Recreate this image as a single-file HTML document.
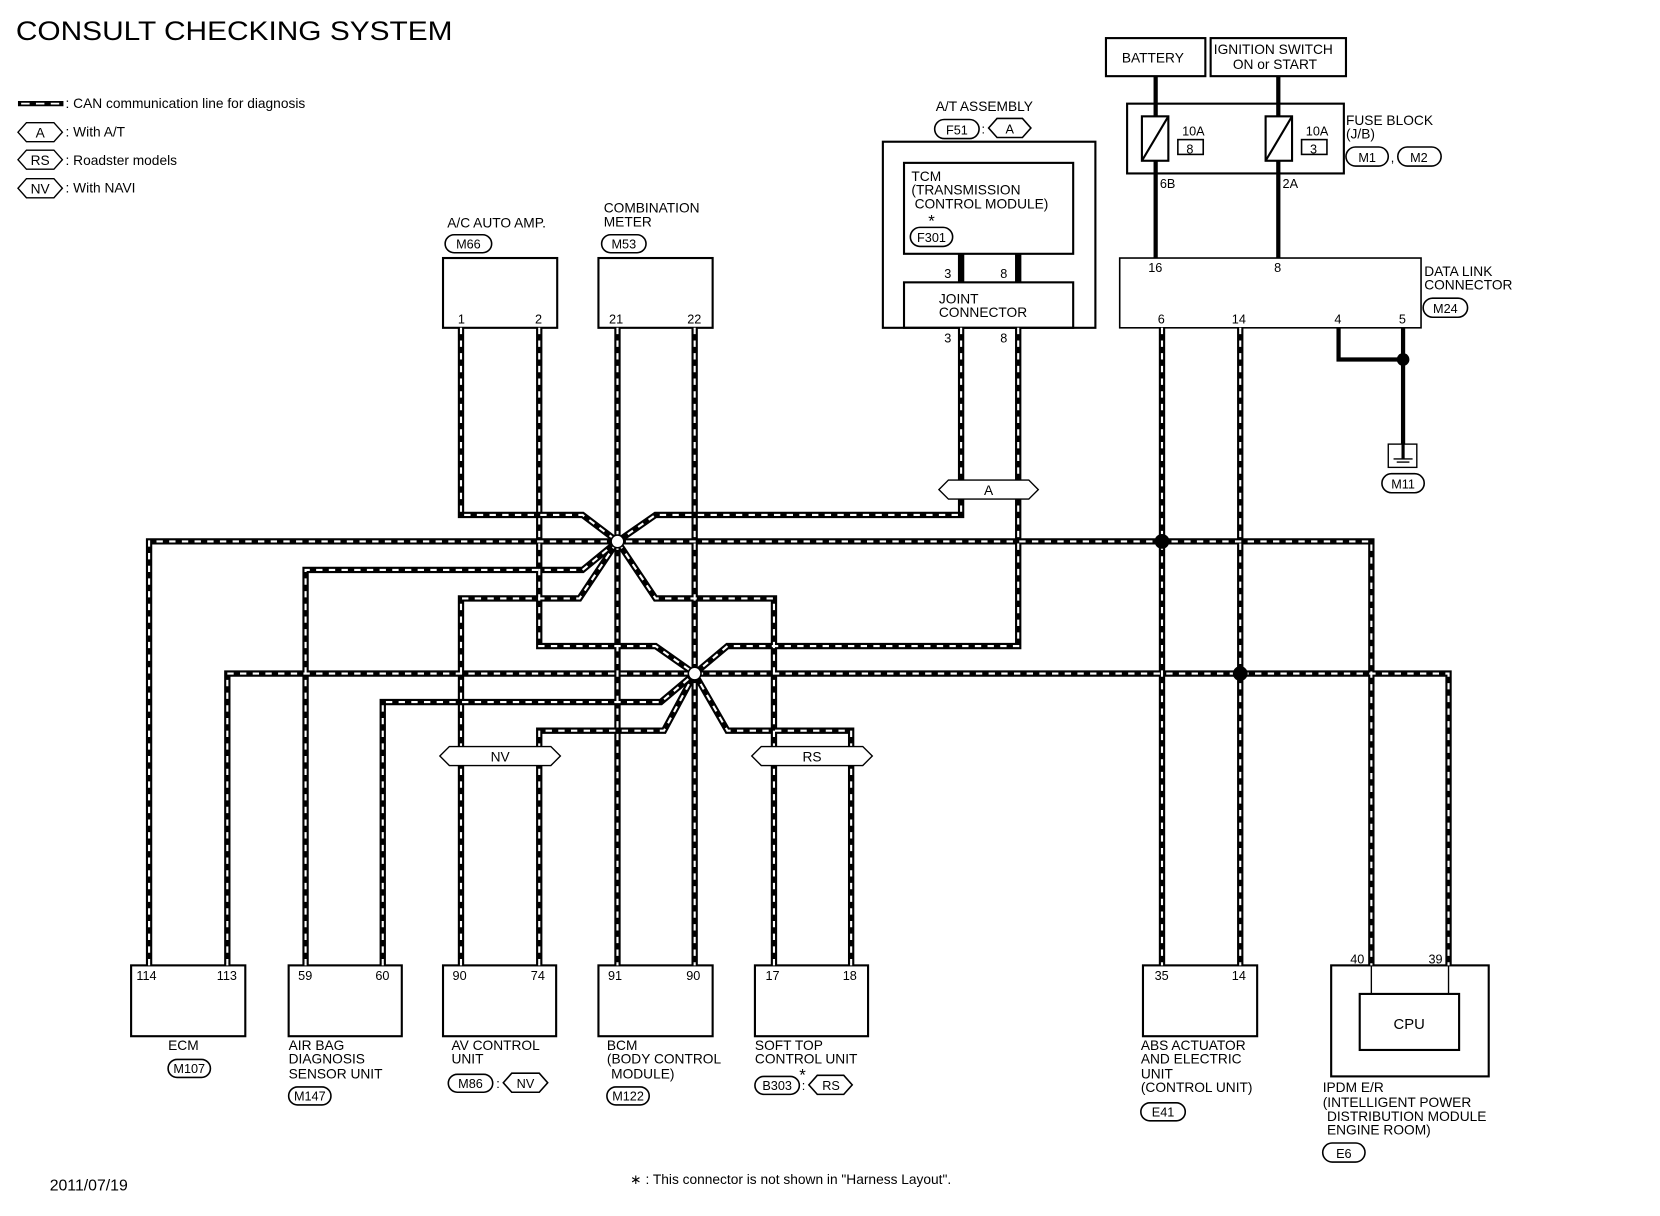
<!DOCTYPE html>
<html><head><meta charset="utf-8"><style>
html,body{margin:0;padding:0;background:#fff}
svg{display:block}
text{font-family:"Liberation Sans",sans-serif;fill:#000}
</style></head><body>
<svg width="1660" height="1216" viewBox="0 0 1570 1150" xmlns="http://www.w3.org/2000/svg">
<rect width="1570" height="1150" fill="#fff"/>
<text x="15" y="38" font-size="25" textLength="413" lengthAdjust="spacingAndGlyphs">CONSULT CHECKING SYSTEM</text>

<!-- legend -->
<line x1="17" y1="98" x2="60" y2="98" stroke="#000" stroke-width="5"/>
<line x1="20" y1="98" x2="58" y2="98" stroke="#fff" stroke-width="1.6" stroke-dasharray="8 6"/>
<g font-size="13">
<text x="62" y="102">: CAN communication line for diagnosis</text>
<text x="62" y="129">: With A/T</text>
<text x="62" y="156">: Roadster models</text>
<text x="62" y="182">: With NAVI</text>
</g>
<g fill="#fff" stroke="#000" stroke-width="1.3">
<polygon points="17,125 25,116 51,116 59,125 51,134 25,134"/>
<polygon points="17,151 25,142 51,142 59,151 51,160 25,160"/>
<polygon points="17,178 25,169 51,169 59,178 51,187 25,187"/>
</g>
<g font-size="13" text-anchor="middle">
<text x="38" y="130">A</text><text x="38" y="156">RS</text><text x="38" y="183">NV</text>
</g>

<!-- boxes -->
<g fill="none" stroke="#000" stroke-width="2">
<rect x="419" y="244" width="108" height="66"/>
<rect x="566" y="244" width="108" height="66"/>
<rect x="835" y="134" width="201" height="176"/>
<rect x="855" y="154" width="160" height="86"/>
<rect x="855" y="267" width="160" height="43"/>
<rect x="1046" y="36" width="94" height="36"/>
<rect x="1145" y="36" width="128" height="36"/>
<rect x="1066" y="98" width="205" height="66"/>
<rect x="1059" y="244" width="285" height="66" stroke-width="1.5"/>
<rect x="124" y="913" width="108" height="67"/>
<rect x="273" y="913" width="107" height="67"/>
<rect x="419" y="913" width="107" height="67"/>
<rect x="566" y="913" width="108" height="67"/>
<rect x="714" y="913" width="107" height="67"/>
<rect x="1081" y="913" width="108" height="67"/>
<rect x="1259" y="913" width="149" height="105"/>
<rect x="1286" y="940" width="94" height="53"/>
</g>
<g stroke="#000" stroke-width="1.3">
<line x1="1297" y1="913" x2="1297" y2="940"/>
<line x1="1370" y1="913" x2="1370" y2="940"/>
</g>

<!-- fuses -->
<g fill="none" stroke="#000" stroke-width="2">
<rect x="1080" y="110" width="25" height="42"/>
<line x1="1080" y1="152" x2="1105" y2="110"/>
<rect x="1197" y="110" width="25" height="42"/>
<line x1="1197" y1="152" x2="1222" y2="110"/>
<rect x="1114" y="132" width="24" height="14" stroke-width="1.5"/>
<rect x="1231" y="132" width="24" height="14" stroke-width="1.5"/>
</g>
<g stroke="#000" stroke-width="4">
<line x1="1093" y1="72" x2="1093" y2="110"/>
<line x1="1093" y1="152" x2="1093" y2="244"/>
<line x1="1209" y1="72" x2="1209" y2="110"/>
<line x1="1209" y1="152" x2="1209" y2="244"/>
<polyline points="1266,310 1266,340 1327,340" fill="none"/>
<line x1="1327" y1="310" x2="1327" y2="430"/>
</g>
<circle cx="1327" cy="340" r="6" fill="#000"/>
<rect x="1313" y="420" width="27" height="22" fill="#fff" stroke="#000" stroke-width="1.3"/>
<line x1="1327" y1="420" x2="1327" y2="434" stroke="#000" stroke-width="3"/>
<line x1="1318" y1="434" x2="1336" y2="434" stroke="#000" stroke-width="1.3"/>
<line x1="1321" y1="437" x2="1333" y2="437" stroke="#000" stroke-width="1.3"/>

<!-- CAN lines -->
<g fill="none" stroke="#000" stroke-width="6" stroke-linejoin="miter" id="can">
<path d="M436,310V487H551L584,512"/>
<path d="M510,310V611H620L657,637"/>
<path d="M584,310V913"/>
<path d="M657,310V913"/>
<path d="M909,310V487H620L584,512"/>
<path d="M963,310V611H688L657,637"/>
<path d="M141,913V512H1297V913"/>
<path d="M215,913V637H1370V913"/>
<path d="M289,913V539H551L584,512"/>
<path d="M362,913V664H625L657,637"/>
<path d="M436,913V566H548L584,512"/>
<path d="M510,913V691H628L657,637"/>
<path d="M732,913V566H620L584,512"/>
<path d="M805,913V691H688L657,637"/>
<path d="M1099,310V913"/>
<path d="M1173,310V913"/>
<path d="M909,240V267"/>
<path d="M963,240V267"/>
</g>
<g fill="none" stroke="#fff" stroke-width="2" stroke-dasharray="6 6">
<path d="M436,310V487H551L584,512"/>
<path d="M510,310V611H620L657,637"/>
<path d="M584,310V913"/>
<path d="M657,310V913"/>
<path d="M909,310V487H620L584,512"/>
<path d="M963,310V611H688L657,637"/>
<path d="M141,913V512H1297V913"/>
<path d="M215,913V637H1370V913"/>
<path d="M289,913V539H551L584,512"/>
<path d="M362,913V664H625L657,637"/>
<path d="M436,913V566H548L584,512"/>
<path d="M510,913V691H628L657,637"/>
<path d="M732,913V566H620L584,512"/>
<path d="M805,913V691H688L657,637"/>
<path d="M1099,310V913"/>
<path d="M1173,310V913"/>
</g>
<circle cx="1099" cy="512" r="7" fill="#000"/>
<circle cx="1173" cy="637" r="7" fill="#000"/>
<circle cx="584" cy="512" r="6" fill="#fff" stroke="#000" stroke-width="1.5"/>
<circle cx="657" cy="637" r="6" fill="#fff" stroke="#000" stroke-width="1.5"/>

<!-- hexes on lines -->
<g fill="#fff" stroke="#000" stroke-width="1.3">
<polygon points="888,463 897,454 973,454 982,463 973,472 897,472"/>
<polygon points="416,715 425,706 521,706 530,715 521,724 425,724"/>
<polygon points="711,715 720,706 816,706 825,715 816,724 720,724"/>
</g>
<g font-size="13" text-anchor="middle">
<text x="935" y="468">A</text><text x="473" y="720">NV</text><text x="768" y="720">RS</text>
</g>

<!-- ovals -->
<g fill="#fff" stroke="#000" stroke-width="1.5">
<rect x="421" y="222" width="44" height="17" rx="8.5"/>
<rect x="569" y="222" width="42" height="17" rx="8.5"/>
<rect x="884" y="113" width="42" height="18" rx="9"/>
<rect x="861" y="215" width="40" height="18" rx="9"/>
<rect x="1273" y="139" width="40" height="18" rx="9"/>
<rect x="1322" y="139" width="41" height="18" rx="9"/>
<rect x="1346" y="282" width="42" height="18" rx="9"/>
<rect x="1307" y="448" width="40" height="18" rx="9"/>
<rect x="159" y="1002" width="40" height="17" rx="8.5"/>
<rect x="273" y="1028" width="40" height="17" rx="8.5"/>
<rect x="424" y="1016" width="42" height="17" rx="8.5"/>
<rect x="574" y="1028" width="40" height="17" rx="8.5"/>
<rect x="714" y="1018" width="42" height="17" rx="8.5"/>
<rect x="1079" y="1043" width="42" height="17" rx="8.5"/>
<rect x="1251" y="1081" width="40" height="18" rx="9"/>
<polygon points="935,121 943,112 967,112 975,121 967,130 943,130"/>
<polygon points="476,1024 484,1015 510,1015 518,1024 510,1033 484,1033"/>
<polygon points="765,1026 773,1017 798,1017 806,1026 798,1035 773,1035"/>
</g>
<g font-size="12" text-anchor="middle">
<text x="443" y="235">M66</text><text x="590" y="235">M53</text>
<text x="905" y="127">F51</text><text x="955" y="126">A</text><text x="930" y="126">:</text>
<text x="881" y="229">F301</text><text x="881" y="214" font-size="16">*</text>
<text x="1293" y="153">M1</text><text x="1342" y="153">M2</text><text x="1317" y="153">,</text>
<text x="1367" y="296">M24</text><text x="1327" y="462">M11</text>
<text x="179" y="1015">M107</text><text x="293" y="1041">M147</text>
<text x="445" y="1029">M86</text><text x="471" y="1029">:</text><text x="497" y="1029">NV</text>
<text x="594" y="1041">M122</text>
<text x="735" y="1031">B303</text><text x="760" y="1031">:</text><text x="786" y="1031">RS</text>
<text x="759" y="1022" font-size="16">*</text>
<text x="1100" y="1056">E41</text><text x="1271" y="1095">E6</text>
</g>

<!-- labels -->
<g font-size="13">
<text x="423" y="215">A/C AUTO AMP.</text>
<text x="571" y="201">COMBINATION</text><text x="571" y="214">METER</text>
<text x="885" y="105">A/T ASSEMBLY</text>
<text x="862" y="171">TCM</text><text x="862" y="184">(TRANSMISSION</text><text x="865" y="197">CONTROL MODULE)</text>
<text x="888" y="287">JOINT</text><text x="888" y="300">CONNECTOR</text>
<text x="1061" y="59">BATTERY</text>
<text x="1148" y="51">IGNITION SWITCH</text><text x="1166" y="65">ON or START</text>
<text x="1273" y="118">FUSE BLOCK</text><text x="1273" y="131">(J/B)</text>
<text x="1347" y="261">DATA LINK</text><text x="1347" y="274">CONNECTOR</text>
<text x="159" y="993">ECM</text>
<text x="273" y="993">AIR BAG</text><text x="273" y="1006">DIAGNOSIS</text><text x="273" y="1020">SENSOR UNIT</text>
<text x="427" y="993">AV CONTROL</text><text x="427" y="1006">UNIT</text>
<text x="574" y="993">BCM</text><text x="574" y="1006">(BODY CONTROL</text><text x="578" y="1020">MODULE)</text>
<text x="714" y="993">SOFT TOP</text><text x="714" y="1006">CONTROL UNIT</text>
<text x="1079" y="993">ABS ACTUATOR</text><text x="1079" y="1006">AND ELECTRIC</text><text x="1079" y="1020">UNIT</text><text x="1079" y="1033">(CONTROL UNIT)</text>
<text x="1251" y="1033">IPDM E/R</text><text x="1251" y="1047">(INTELLIGENT POWER</text><text x="1255" y="1060">DISTRIBUTION MODULE</text><text x="1255" y="1073">ENGINE ROOM)</text>
<text x="1318" y="973" font-size="14">CPU</text>
<text x="47" y="1126" font-size="15">2011/07/19</text>
<text x="596" y="1120" font-size="13">∗ : This connector is not shown in "Harness Layout".</text>
</g>
<g font-size="12">
<text x="433" y="306">1</text><text x="506" y="306">2</text>
<text x="576" y="306">21</text><text x="650" y="306">22</text>
<text x="893" y="263">3</text><text x="946" y="263">8</text>
<text x="893" y="324">3</text><text x="946" y="324">8</text>
<text x="1118" y="128">10A</text><text x="1122" y="145">8</text>
<text x="1235" y="128">10A</text><text x="1239" y="145">3</text>
<text x="1097" y="178">6B</text><text x="1213" y="178">2A</text>
<text x="1086" y="257">16</text><text x="1205" y="257">8</text>
<text x="1095" y="306">6</text><text x="1165" y="306">14</text><text x="1262" y="306">4</text><text x="1323" y="306">5</text>
<text x="129" y="927">114</text><text x="205" y="927">113</text>
<text x="282" y="927">59</text><text x="355" y="927">60</text>
<text x="428" y="927">90</text><text x="502" y="927">74</text>
<text x="575" y="927">91</text><text x="649" y="927">90</text>
<text x="724" y="927">17</text><text x="797" y="927">18</text>
<text x="1092" y="927">35</text><text x="1165" y="927">14</text>
<text x="1277" y="911">40</text><text x="1351" y="911">39</text>
</g>
</svg>
</body></html>
